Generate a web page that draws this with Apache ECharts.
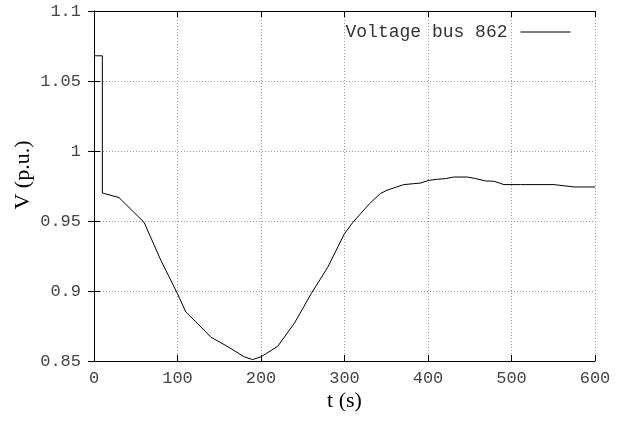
<!DOCTYPE html>
<html>
<head>
<meta charset="utf-8">
<script src="https://cdn.jsdelivr.net/npm/echarts@6/dist/echarts.min.js"></script>
<style>
  html, body { margin: 0; padding: 0; background: #fff; }
  #chart { width: 634px; height: 425px; }
</style>
</head>
<body>
<div id="chart"></div>
<script>
// time (s) and voltage (p.u.)
var timeData = [0, 10, 10, 30, 60, 80, 100, 110, 122, 140, 158, 180, 190, 200, 220, 240, 260, 280, 300, 310,
    330, 343, 351, 371, 391, 401, 411, 421, 431, 447, 457, 469, 479, 491, 511, 551, 575, 600];
var voltData = [1.068, 1.068, 0.970, 0.9667, 0.949, 0.922, 0.898, 0.885, 0.878, 0.867, 0.861, 0.853, 0.851, 0.853,
    0.8605, 0.877, 0.898, 0.917, 0.941, 0.949, 0.9624, 0.9696, 0.972, 0.976, 0.9771, 0.979, 0.9798, 0.9803,
    0.9814, 0.9814, 0.9803, 0.9786, 0.9784, 0.976, 0.976, 0.976, 0.9743, 0.9743];
var seriesName = 'Voltage bus 862';

var points = [];
for (var i = 0; i < timeData.length; i++) {
    points.push([timeData[i], voltData[i]]);
}

var monoFont = '"Liberation Mono", "DejaVu Sans Mono", monospace';
var serifFont = '"Liberation Serif", "DejaVu Serif", serif';
var labelStyle = { color: '#444', fontFamily: monoFont, fontSize: 17 };
var gridDots = { show: true, lineStyle: { color: '#999', type: [1, 2], width: 1 } };

var myChart = echarts.init(document.getElementById('chart'));
var option = {
    animation: false,
    backgroundColor: '#fff',
    grid: { left: 94, right: 39, top: 11, bottom: 64 },
    legend: {
        data: [seriesName],
        align: 'right',
        right: 58,
        top: 18,
        itemWidth: 50,
        itemHeight: 14,
        itemStyle: { opacity: 0 },
        lineStyle: { width: 1, color: '#000' },
        textStyle: { color: '#333', fontFamily: monoFont, fontSize: 18, padding: [0, 8, 0, 0] }
    },
    xAxis: [{
        type: 'value',
        min: 0, max: 600, interval: 100,
        name: 't (s)',
        nameLocation: 'middle',
        nameGap: 29,
        nameMoveOverlap: false,
        nameTextStyle: { color: '#000', fontFamily: serifFont, fontSize: 22 },
        axisLine: { show: true, lineStyle: { color: '#000', width: 1 } },
        axisTick: { show: true, inside: true, length: 6, lineStyle: { color: '#000' } },
        axisLabel: { margin: 9, ...labelStyle },
        splitLine: gridDots
    }, {
        type: 'value',
        position: 'top',
        min: 0, max: 600, interval: 100,
        axisLine: { show: true, lineStyle: { color: '#000', width: 1 } },
        axisTick: { show: true, inside: true, length: 6, lineStyle: { color: '#000' } },
        axisLabel: { show: false },
        splitLine: { show: false }
    }],
    yAxis: [{
        type: 'value',
        min: 0.85, max: 1.1, interval: 0.05,
        name: 'V (p.u.)',
        nameLocation: 'middle',
        nameGap: 60,
        nameMoveOverlap: false,
        nameRotate: 90,
        nameTextStyle: { color: '#000', fontFamily: serifFont, fontSize: 22, padding: [0, 0, 0, 22] },
        axisLine: { show: true, lineStyle: { color: '#000', width: 1 } },
        axisTick: { show: true, inside: true, length: 6, lineStyle: { color: '#000' } },
        axisLabel: {
            margin: 13,
            formatter: function (v) { return String(+v.toFixed(2)); },
            ...labelStyle
        },
        splitLine: gridDots
    }, {
        type: 'value',
        position: 'right',
        min: 0.85, max: 1.1, interval: 0.05,
        axisLine: { show: true, lineStyle: { color: '#000', width: 1 } },
        axisTick: { show: true, inside: true, length: 6, lineStyle: { color: '#000' } },
        axisLabel: { show: false },
        splitLine: { show: false }
    }],
    series: [{
        name: seriesName,
        type: 'line',
        data: points,
        showSymbol: false,
        symbol: 'none',
        lineStyle: { color: '#000', width: 1 },
        itemStyle: { color: '#000' }
    }]
};
myChart.setOption(option);
</script>
</body>
</html>
